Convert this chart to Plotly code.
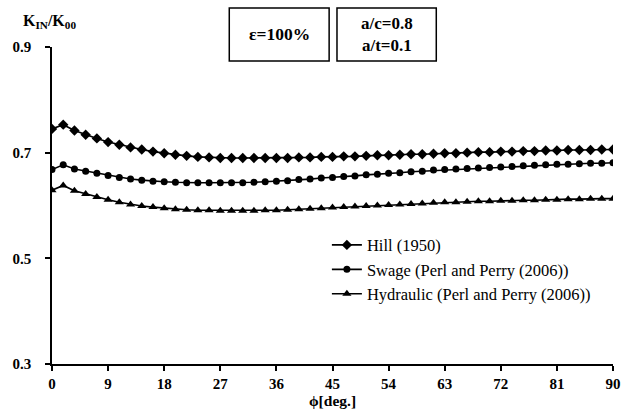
import plotly.graph_objects as go

phi = [round(i * 1.8, 1) for i in range(51)]

hill = [0.745, 0.753, 0.742, 0.734, 0.727, 0.720, 0.715, 0.710, 0.706, 0.702,
        0.699, 0.696, 0.694, 0.692, 0.691, 0.690, 0.690, 0.690, 0.690, 0.690,
        0.690, 0.690, 0.691, 0.691, 0.692, 0.692, 0.693, 0.693, 0.694, 0.695,
        0.695, 0.696, 0.697, 0.697, 0.698, 0.699, 0.699, 0.700, 0.701, 0.701,
        0.702, 0.702, 0.703, 0.703, 0.704, 0.704, 0.705, 0.705, 0.705, 0.706,
        0.706]

swage = [0.668, 0.677, 0.669, 0.665, 0.661, 0.657, 0.653, 0.650, 0.648, 0.646,
         0.645, 0.644, 0.643, 0.643, 0.643, 0.643, 0.643, 0.643, 0.644, 0.645,
         0.646, 0.647, 0.649, 0.650, 0.652, 0.653, 0.655, 0.656, 0.658, 0.659,
         0.661, 0.662, 0.664, 0.665, 0.667, 0.668, 0.669, 0.670, 0.671, 0.672,
         0.673, 0.674, 0.675, 0.676, 0.677, 0.678, 0.678, 0.679, 0.680, 0.680,
         0.681]

hydraulic = [0.629, 0.638, 0.628, 0.622, 0.616, 0.611, 0.606, 0.602, 0.599, 0.597,
             0.595, 0.593, 0.592, 0.591, 0.591, 0.590, 0.590, 0.590, 0.590, 0.591,
             0.591, 0.592, 0.593, 0.594, 0.595, 0.596, 0.597, 0.598, 0.599, 0.600,
             0.601, 0.602, 0.603, 0.604, 0.605, 0.606, 0.606, 0.607, 0.608, 0.608,
             0.609, 0.609, 0.610, 0.610, 0.611, 0.611, 0.612, 0.612, 0.613, 0.613,
             0.613]

series_names = ["Hill (1950)", "Swage (Perl and Perry (2006))", "Hydraulic (Perl and Perry (2006))"]
x_ticks = [0, 9, 18, 27, 36, 45, 54, 63, 72, 81, 90]
y_ticks = [0.3, 0.5, 0.7, 0.9]

FONT = "Liberation Serif, Times New Roman, serif"

fig = go.Figure()
for name, vals, sym, size in [
    (series_names[0], hill, "diamond", 8),
    (series_names[1], swage, "circle", 7),
    (series_names[2], hydraulic, "triangle-up", 8),
]:
    fig.add_trace(go.Scatter(
        x=phi, y=vals, name=name, mode="lines+markers",
        line=dict(color="black", width=1.6),
        marker=dict(symbol=sym, size=size, color="black"),
    ))

fig.update_layout(
    width=630, height=414,
    margin=dict(l=52, r=9, t=47, b=50),
    paper_bgcolor="white", plot_bgcolor="white",
    font=dict(family=FONT, color="black"),
    showlegend=True,
    legend=dict(
        x=0.49, y=0.43, xanchor="left", yanchor="top",
        font=dict(family=FONT, size=16.5, color="black"),
        bgcolor="rgba(0,0,0,0)", tracegroupgap=0,
    ),
    xaxis=dict(
        range=[0, 90], tickvals=x_ticks, ticktext=["<b>%d</b>" % v for v in x_ticks],
        showgrid=False, zeroline=False, showline=True, linecolor="black", linewidth=1.5,
        ticks="outside", ticklen=5, tickcolor="black", tickwidth=1.5,
        tickfont=dict(family=FONT, size=15, color="black"),
        title=dict(text="<b>ϕ[deg.]</b>", font=dict(family=FONT, size=15.5, color="black"), standoff=2),
    ),
    yaxis=dict(
        range=[0.3, 0.9], tickvals=y_ticks, ticktext=["<b>0.3</b>", "<b>0.5</b>", "<b>0.7</b>", "<b>0.9</b>"],
        showgrid=False, zeroline=False, showline=True, linecolor="black", linewidth=1.5,
        ticks="outside", ticklen=5, tickcolor="black", tickwidth=1.5,
        tickfont=dict(family=FONT, size=15, color="black"),
        ticklabelstandoff=11,
    ),
)

fig.add_annotation(
    xref="paper", yref="paper", x=-0.056, y=1.079, xanchor="left", yanchor="middle",
    text="<b>K<sub>IN</sub>/K<sub>00</sub></b>", showarrow=False,
    font=dict(family=FONT, size=16, color="black"),
)

fig.add_shape(type="rect", xref="paper", yref="paper",
              x0=0.316, x1=0.494, y0=0.956, y1=1.123,
              line=dict(color="black", width=1.5), fillcolor="white")
fig.add_shape(type="rect", xref="paper", yref="paper",
              x0=0.508, x1=0.685, y0=0.956, y1=1.123,
              line=dict(color="black", width=1.5), fillcolor="white")
fig.add_annotation(xref="paper", yref="paper", x=0.405, y=1.04, xanchor="center", yanchor="middle",
                   showarrow=False,
                   text="<b>ε=100%</b>", font=dict(family=FONT, size=17.5, color="black"))
fig.add_annotation(xref="paper", yref="paper", x=0.5965, y=1.04, xanchor="center", yanchor="middle",
                   showarrow=False,
                   text="<b>a/c=0.8<br>a/t=0.1</b>", font=dict(family=FONT, size=17, color="black"))

fig.write_html("out.html")
